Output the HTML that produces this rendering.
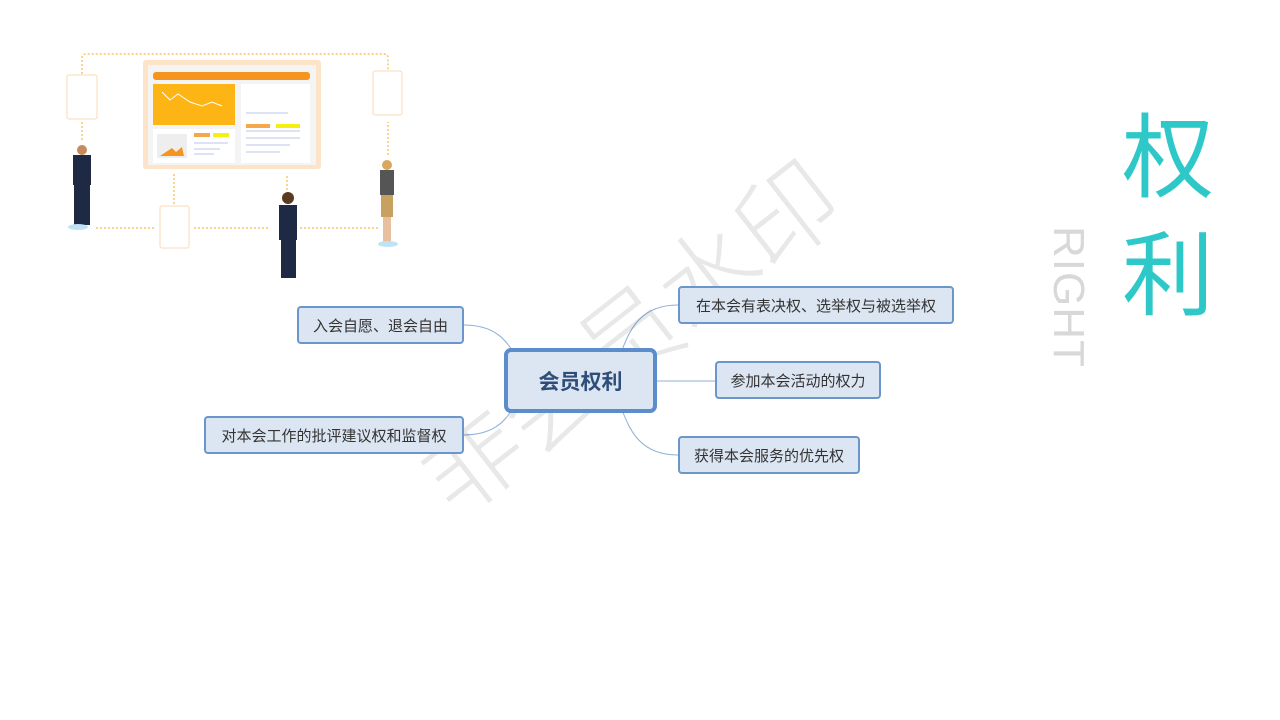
<!DOCTYPE html>
<html><head><meta charset="utf-8"><style>
body{margin:0;width:1280px;height:720px;background:#fff;position:relative;overflow:hidden;font-family:"Liberation Sans","Noto Sans CJK SC",sans-serif}
.n{position:absolute;box-sizing:border-box;background:#dce6f2;border:2px solid #6a96cc;border-radius:4px;color:#333;font-size:15px;display:flex;align-items:center;justify-content:center;white-space:nowrap}
.c{border:4px solid #5b8ccc;border-radius:7px;font-size:21px;font-weight:bold;color:#2e4d7a}
.abs{position:absolute}
</style></head><body>
<svg class="abs" style="left:0;top:0" width="1280" height="720">
<g fill="none" stroke="#f5b84a" stroke-width="1.2" stroke-dasharray="2,2">
<path d="M82 74 V58 Q82 54 86 54 H384 Q388 54 388 58 V70"/>
<path d="M82 122 V142"/><path d="M96 228 H155"/><path d="M194 228 H270"/><path d="M300 228 H378"/>
<path d="M174 204 V174"/><path d="M287 190 V174"/><path d="M388 155 V122"/>
</g>
<rect x="143" y="60" width="178" height="109" rx="3" fill="#fde3c8"/>
<rect x="148" y="65" width="168" height="100" fill="#f4f4f4"/>
<rect x="153" y="72" width="157" height="8" rx="3" fill="#f5941e"/>
<rect x="153" y="84" width="82" height="41" fill="#fdb515"/>
<path d="M162 92 L170 100 L178 94 L190 102 L202 106 L212 102 L222 106" stroke="#fff" fill="none"/>
<rect x="241" y="84" width="69" height="79" fill="#fff"/>
<rect x="153" y="129" width="82" height="34" fill="#fff"/>
<rect x="157" y="134" width="30" height="24" fill="#eee"/>
<path d="M160 156 L172 148 L176 152 L182 147 L184 156Z" fill="#f5941e"/>
<rect x="194" y="133" width="16" height="4" fill="#f5a84a"/><rect x="213" y="133" width="16" height="4" fill="#f5f010"/>
<rect x="246" y="124" width="24" height="4" fill="#f5a84a"/><rect x="276" y="124" width="24" height="4" fill="#f5f010"/>
<g stroke="#dde3f5" stroke-width="2"><path d="M246 113H288M246 131H300M246 138H300M246 145H290M246 152H280M194 143H228M194 149H220M194 154H214"/></g>
<g fill="#fff" stroke="#fbd9b5"><rect x="67" y="75" width="30" height="44" rx="2"/><rect x="160" y="206" width="29" height="42" rx="2"/><rect x="373" y="71" width="29" height="44" rx="2"/></g>
<g fill="#1e2a44"><rect x="73" y="155" width="18" height="30"/><rect x="74" y="185" width="16" height="40"/><circle cx="82" cy="150" r="5" fill="#c98a5a"/>
<rect x="279" y="205" width="18" height="35"/><rect x="281" y="240" width="15" height="38"/><circle cx="288" cy="198" r="6" fill="#5a3a22"/></g>
<rect x="380" y="170" width="14" height="25" fill="#555"/><rect x="381" y="195" width="12" height="22" fill="#c8a060"/><rect x="383" y="217" width="8" height="25" fill="#e8c0a0"/><circle cx="387" cy="165" r="5" fill="#d8a860"/>
<ellipse cx="78" cy="227" rx="10" ry="3" fill="#bfe3f5"/><ellipse cx="388" cy="244" rx="10" ry="3" fill="#bfe3f5"/>
<g fill="none" stroke="#8fb0d8" stroke-width="1">
<path d="M463 325 C495 325 505 340 512 350"/><path d="M463 435 C495 435 505 420 512 410"/>
<path d="M678 305 C640 305 630 330 622 350"/><path d="M656 381 H715"/><path d="M678 455 C640 455 630 430 622 410"/>
</g>
<text x="0" y="0" transform="translate(455 520) rotate(-38)" font-size="100" fill="#000" fill-opacity="0.09" font-family="Noto Sans CJK SC" font-weight="300">非会员水印</text>
</svg>
<div class="n" style="left:297px;top:306px;width:167px;height:38px">入会自愿、退会自由</div>
<div class="n" style="left:204px;top:416px;width:260px;height:38px">对本会工作的批评建议权和监督权</div>
<div class="n c" style="left:504px;top:348px;width:153px;height:65px">会员权利</div>
<div class="n" style="left:678px;top:286px;width:276px;height:38px">在本会有表决权、选举权与被选举权</div>
<div class="n" style="left:715px;top:361px;width:166px;height:38px">参加本会活动的权力</div>
<div class="n" style="left:678px;top:436px;width:182px;height:38px">获得本会服务的优先权</div>
<div class="abs" style="left:1122px;top:92px;font-size:92px;line-height:118px;color:#2ec8c8;width:100px;font-family:'Noto Sans CJK SC',sans-serif">权<br>利</div>
<div class="abs" style="left:1046px;top:226px;writing-mode:vertical-rl;font-size:44px;color:#d8d8d8;letter-spacing:1px;line-height:44px">RIGHT</div>
</body></html>
